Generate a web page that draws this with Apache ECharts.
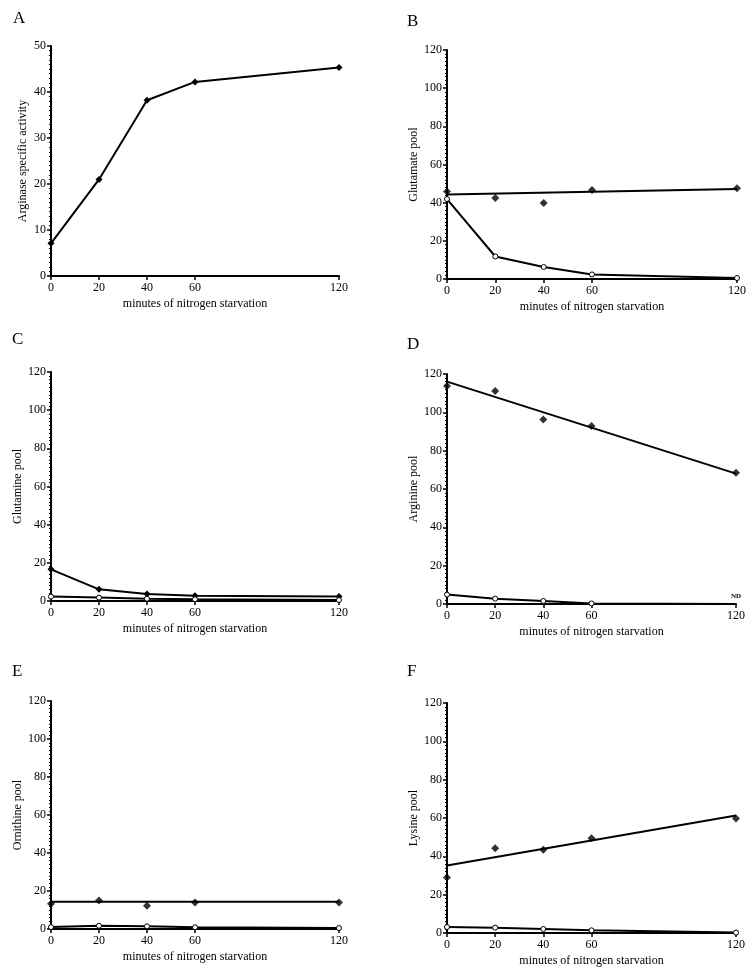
<!DOCTYPE html>
<html>
<head>
<meta charset="utf-8">
<script src="https://cdn.jsdelivr.net/npm/echarts@6/dist/echarts.min.js"></script>
<style>
html,body{margin:0;padding:0;background:#fff;}
#chart{width:755px;height:976px;}
</style>
</head>
<body>
<div id="chart"></div>
<script>
// ---- data ----
var minutes = [0, 20, 40, 60, 120];
var xTickValues = [0, 20, 40, 60, 120];
var xAxisTitle = 'minutes of nitrogen starvation';

// Panel A
var argActivity = [7.1, 21.0, 38.2, 42.2, 45.3];
// Panel B (glutamate)
var gluFilled = [45.8, 42.4, 39.8, 46.7, 47.6];
var gluFit = [44.3, 47.1];
var gluOpen = [41.9, 11.8, 6.3, 2.4, 0.5];
// Panel C (glutamine)
var glnFilled = [16.6, 6.1, 3.7, 2.8, 2.3];
var glnOpen = [2.3, 1.8, 1.2, 0.9, 0.5];
// Panel D (arginine)
var argFilled = [113.7, 111.1, 96.3, 92.9, 68.5];
var argFit = [116.0, 68.0];
var argOpen = [4.9, 2.8, 1.6, 0.3, 0];
// Panel E (ornithine)
var ornFilled = [13.3, 15.0, 12.2, 14.0, 14.0];
var ornFit = [14.3, 14.3];
var ornOpen = [1.0, 1.7, 1.4, 0.9, 0.5];
// Panel F (lysine)
var lysFilled = [28.9, 44.2, 43.5, 49.4, 59.7];
var lysFit = [35.2, 61.3];
var lysOpen = [3.1, 2.8, 2.1, 1.4, 0.2];

var fitX = [0, 120];

var panels = [
  {letter:'A', lx:8, ly:5, name:'Arginase specific activity', gap:22, ymax:50, yint:10, grid:{left:51,top:46,width:288,height:230},
   lines:[argActivity], scatter:[], fits:[], open:[]},
  {letter:'B', lx:402, ly:8, name:'Glutamate pool', gap:26, ymax:120, yint:20, grid:{left:447,top:50,width:290,height:229},
   lines:[], scatter:[gluFilled], fits:[gluFit], open:[gluOpen]},
  {letter:'C', lx:7, ly:326, name:'Glutamine pool', gap:26, ymax:120, yint:20, grid:{left:51,top:372,width:288,height:229},
   lines:[glnFilled], scatter:[], fits:[], open:[glnOpen]},
  {letter:'D', lx:402, ly:331, name:'Arginine pool', gap:26, ymax:120, yint:20, grid:{left:447,top:374,width:289,height:230},
   lines:[], scatter:[argFilled], fits:[argFit], open:[argOpen], nd:true},
  {letter:'E', lx:7, ly:658, name:'Ornithine pool', gap:26, ymax:120, yint:20, grid:{left:51,top:701,width:288,height:228},
   lines:[], scatter:[ornFilled], fits:[ornFit], open:[ornOpen]},
  {letter:'F', lx:402, ly:658, name:'Lysine pool', gap:26, ymax:120, yint:20, grid:{left:447,top:703,width:289,height:230},
   lines:[], scatter:[lysFilled], fits:[lysFit], open:[lysOpen]}
];

var FONT = '"Liberation Serif", "DejaVu Serif", serif';
var grids = [], xAxes = [], yAxes = [], series = [], titles = [];

function pairs(xs, ys){ return xs.map(function(x,i){ return [x, ys[i]]; }); }

panels.forEach(function(p, i){
  grids.push(p.grid);
  titles.push({text:p.letter, left:p.lx, top:p.ly,
    textStyle:{fontFamily:FONT, fontSize:17, fontWeight:'normal', color:'#000'}});
  xAxes.push({type:'value', gridIndex:i, min:0, max:120, interval:20,
    name:xAxisTitle, nameLocation:'middle', nameGap:22,
    nameTextStyle:{fontFamily:FONT, fontSize:12, color:'#000'},
    axisLine:{lineStyle:{color:'#000', width:2}},
    axisTick:{customValues:xTickValues, length:4, lineStyle:{color:'#000', width:1.5}},
    axisLabel:{customValues:xTickValues, fontFamily:FONT, fontSize:12, color:'#000', margin:6},
    splitLine:{show:false}});
  yAxes.push({type:'value', gridIndex:i, min:0, max:p.ymax, interval:p.yint,
    name:p.name, nameLocation:'middle', nameGap:p.gap,
    nameTextStyle:{fontFamily:FONT, fontSize:12, color:'#000'},
    axisLine:{show:true, lineStyle:{color:'#000', width:2}},
    axisTick:{length:4, lineStyle:{color:'#000', width:1.5}},
    minorTick:{show:true, splitNumber:10, length:2, lineStyle:{color:'#000', width:1}},
    axisLabel:{fontFamily:FONT, fontSize:12, color:'#000', margin:5},
    splitLine:{show:false}});
  p.lines.forEach(function(arr){
    series.push({type:'line', xAxisIndex:i, yAxisIndex:i, data:pairs(minutes, arr),
      symbol:'diamond', symbolSize:7, itemStyle:{color:'#000'},
      lineStyle:{color:'#000', width:2}, animation:false, z:3});
  });
  p.scatter.forEach(function(arr){
    series.push({type:'scatter', xAxisIndex:i, yAxisIndex:i, data:pairs(minutes, arr),
      symbol:'diamond', symbolSize:8, itemStyle:{color:'#000'}, animation:false, z:4});
  });
  p.fits.forEach(function(arr){
    series.push({type:'line', xAxisIndex:i, yAxisIndex:i, data:pairs(fitX, arr),
      symbol:'none', lineStyle:{color:'#000', width:2}, animation:false, z:2});
  });
  p.open.forEach(function(arr){
    var d = pairs(minutes, arr);
    if (p.nd) {
      d[d.length-1] = {value:d[d.length-1], symbolSize:0,
        label:{show:true, formatter:'ND', position:'top', distance:4, fontSize:7, fontWeight:'bold', fontFamily:FONT, color:'#000'}};
    }
    series.push({type:'line', xAxisIndex:i, yAxisIndex:i, data:d,
      symbol:'circle', symbolSize:5, showAllSymbol:true, itemStyle:{color:'#fff', borderColor:'#000', borderWidth:1},
      lineStyle:{color:'#000', width:2}, animation:false, z:3});
  });
});

var chart = echarts.init(document.getElementById('chart'), null, {renderer:'canvas'});
chart.setOption({
  backgroundColor:'#fff',
  animation:false,
  title:titles,
  grid:grids,
  xAxis:xAxes,
  yAxis:yAxes,
  series:series
});
</script>
</body>
</html>
